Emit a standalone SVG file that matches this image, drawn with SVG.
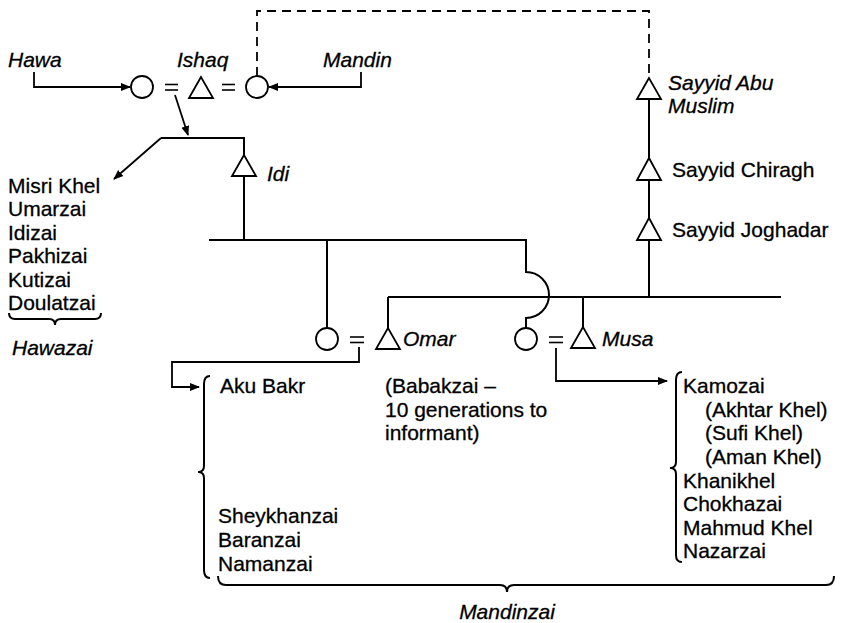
<svg xmlns="http://www.w3.org/2000/svg" width="842" height="623" viewBox="0 0 842 623">
<defs>
<marker id="ah" viewBox="0 0 10 10" refX="9" refY="5" markerWidth="10" markerHeight="10" markerUnits="userSpaceOnUse" orient="auto"><path d="M0,1 L10,5 L0,9 Z" fill="#000"/></marker>
</defs>
<style>
text{font-family:"Liberation Sans",Arial,sans-serif;font-size:21px;fill:#000;stroke:#000;stroke-width:0.3}
.it{font-style:italic}
.ln{fill:none;stroke:#000;stroke-width:2}
.ar{fill:none;stroke:#000;stroke-width:1.8;marker-end:url(#ah)}
.dash{fill:none;stroke:#000;stroke-width:1.8;stroke-dasharray:9,6}
.sym{fill:#fff;stroke:#000;stroke-width:1.8}
.eq{stroke:#000;stroke-width:1.6}
</style>
<rect width="842" height="623" fill="#fff"/>
<g id="connectors">
<path class="dash" d="M257,76 V11 H649 V78"/>
<path class="ar" d="M34,72 V87 H130"/>
<path class="ar" d="M361,72 V87 H269"/>
<path class="ar" d="M175,95 L188,135"/>
<path class="ln" d="M244,155 V138 H161"/>
<path class="ar" d="M161,138 L114,179"/>
<path class="ln" d="M244,176 V240"/>
<path class="ln" d="M209,240 H526 V272 A23,23 0 0 1 526,318 V328"/>
<path class="ln" d="M327,240 V328"/>
<path class="ln" d="M388,297 H781"/>
<path class="ln" d="M388,297 V328"/>
<path class="ln" d="M583,297 V327"/>
<path class="ln" d="M649,297 V240"/>
<path class="ln" d="M649,218 V180"/>
<path class="ln" d="M649,158 V99"/>
<path class="ar" d="M359,347 V362 H172 V387 H199"/>
<path class="ar" d="M556,348 V381 H667"/>
</g>
<g id="hawa"><text class="it" x="8" y="67">Hawa</text><circle class="sym" cx="142" cy="87" r="11"/></g>
<g id="eq1"><line class="eq" x1="165" y1="84.5" x2="178" y2="84.5"/><line class="eq" x1="165" y1="90" x2="178" y2="90"/></g>
<g id="ishaq"><text class="it" x="177" y="67">Ishaq</text><path class="sym" d="M201,77 L189,98 H213 Z"/></g>
<g id="eq2"><line class="eq" x1="222" y1="84.5" x2="235" y2="84.5"/><line class="eq" x1="222" y1="90" x2="235" y2="90"/></g>
<g id="mandin"><text class="it" x="323" y="67">Mandin</text><circle class="sym" cx="257" cy="87" r="11"/></g>
<g id="idi"><path class="sym" d="M244,155 L232,176 H256 Z"/><text class="it" x="267" y="181">Idi</text></g>
<g id="hawazai">
<text x="8" y="193">Misri Khel</text>
<text x="8" y="216">Umarzai</text>
<text x="8" y="240">Idizai</text>
<text x="8" y="263">Pakhizai</text>
<text x="8" y="287">Kutizai</text>
<text x="8" y="310">Doulatzai</text>
<path class="ln" d="M9,313 Q9,319 15,319 H49 Q55,319 55,325 Q55,319 61,319 H95 Q101,319 101,313"/>
<text class="it" x="12" y="355">Hawazai</text>
</g>
<g id="omar-wife"><circle class="sym" cx="327" cy="339" r="11"/></g>
<g id="eq3"><line class="eq" x1="350" y1="337" x2="364" y2="337"/><line class="eq" x1="350" y1="342.5" x2="364" y2="342.5"/></g>
<g id="omar"><path class="sym" d="M388,328 L376,349 H400 Z"/><text class="it" x="403" y="346">Omar</text></g>
<g id="musa-wife"><circle class="sym" cx="526" cy="339" r="11"/></g>
<g id="eq4"><line class="eq" x1="549" y1="337" x2="563" y2="337"/><line class="eq" x1="549" y1="342.5" x2="563" y2="342.5"/></g>
<g id="musa"><path class="sym" d="M583,327 L571,348 H595 Z"/><text class="it" x="602" y="346">Musa</text></g>
<g id="sayyid-abu-muslim"><path class="sym" d="M649,78 L637,99 H661 Z"/><text class="it" x="668" y="90">Sayyid Abu</text><text class="it" x="668" y="113">Muslim</text></g>
<g id="sayyid-chiragh"><path class="sym" d="M649,158 L637,180 H661 Z"/><text x="672" y="177">Sayyid Chiragh</text></g>
<g id="sayyid-joghadar"><path class="sym" d="M649,218 L637,240 H661 Z"/><text x="672" y="237">Sayyid Joghadar</text></g>
<g id="omar-descendants">
<path class="ln" d="M210,376 Q204,376 204,384 V466 Q204,472 198,472 Q204,472 204,478 V570 Q204,578 210,578"/>
<text x="220" y="393">Aku Bakr</text>
<text x="218" y="523">Sheykhanzai</text>
<text x="218" y="547">Baranzai</text>
<text x="218" y="571">Namanzai</text>
</g>
<g id="babakzai">
<text x="385" y="393">(Babakzai –</text>
<text x="385" y="417">10 generations to</text>
<text x="385" y="440">informant)</text>
</g>
<g id="musa-descendants">
<path class="ln" d="M682,372 Q676,372 676,380 V462 Q676,468 670,468 Q676,468 676,474 V555 Q676,562 682,562"/>
<text x="683" y="393">Kamozai</text>
<text x="705" y="417">(Akhtar Khel)</text>
<text x="705" y="440">(Sufi Khel)</text>
<text x="705" y="464">(Aman Khel)</text>
<text x="683" y="488">Khanikhel</text>
<text x="683" y="511">Chokhazai</text>
<text x="683" y="535">Mahmud Khel</text>
<text x="683" y="558">Nazarzai</text>
</g>
<g id="mandinzai">
<path class="ln" d="M218,576 Q218,585 226,585 H500 Q507,585 507,592 Q507,585 514,585 H826 Q834,585 834,576"/>
<text class="it" x="507" y="619" text-anchor="middle">Mandinzai</text>
</g>
</svg>
